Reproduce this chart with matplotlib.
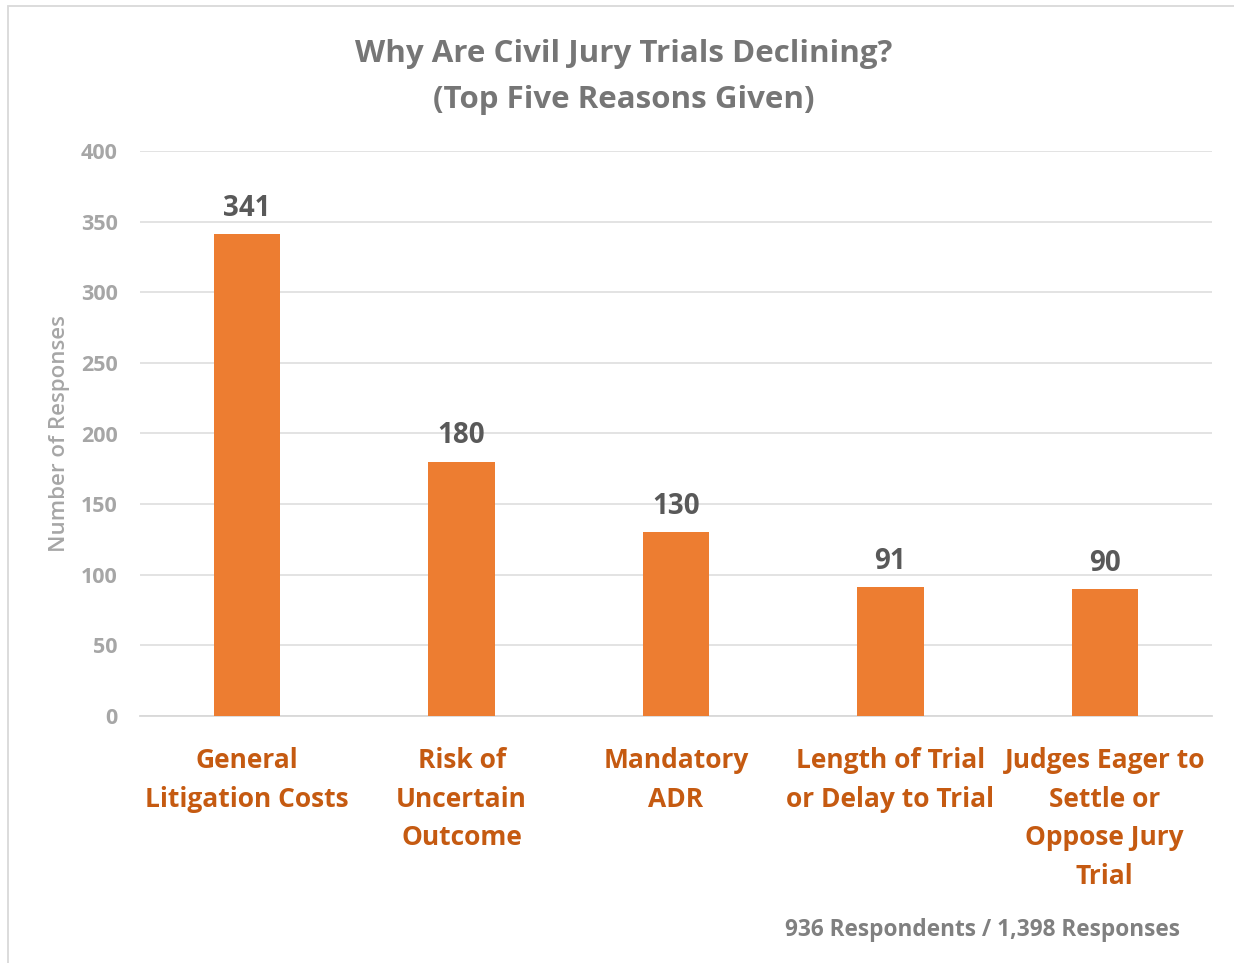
import matplotlib
matplotlib.use("Agg")
import matplotlib.pyplot as plt
from matplotlib.patches import Rectangle

plt.rcParams['font.family'] = ['Open Sans', 'DejaVu Sans']

# data
categories = ['General\nLitigation Costs', 'Risk of\nUncertain\nOutcome', 'Mandatory\nADR',
              'Length of Trial\nor Delay to Trial', 'Judges Eager to\nSettle or\nOppose Jury\nTrial']
responses = [341, 180, 130, 91, 90]
yticks = [0, 50, 100, 150, 200, 250, 300, 350, 400]

bar_color = '#ED7D31'
cat_color = '#C55A11'

fig = plt.figure(figsize=(12.34, 9.63), dpi=100)
ax = fig.add_axes([140 / 1234, 1 - 716 / 963, 1072 / 1234, 565 / 963])

x = list(range(len(categories)))
bars = ax.bar(x, responses, width=0.31, color=bar_color, zorder=3)
for xi, v in zip(x, responses):
    ax.text(xi, v + 8, str(v), ha='center', va='bottom', fontsize=20, fontweight='bold', color='#595959')

ax.set_xlim(-0.5, 4.5)
ax.set_ylim(0, 400)
ax.set_yticks(yticks)
ax.set_yticklabels([str(t) for t in yticks], fontsize=15.5, fontweight='bold', color='#A6A6A6')
ax.tick_params(axis='y', length=0, pad=16)
ax.set_xticks(x)
ax.set_xticklabels(categories, fontsize=19, fontweight='bold', color=cat_color, va='top')
for lab in ax.get_xticklabels():
    lab.set_linespacing(1.57)
ax.tick_params(axis='x', length=0, pad=22)
ax.grid(axis='y', color='#E0E0E0', linewidth=1.3, zorder=0)
for s in ['top', 'right', 'left']:
    ax.spines[s].set_visible(False)
ax.spines['bottom'].set_color('#D9D9D9')
ax.spines['bottom'].set_linewidth(1.3)

ax.set_ylabel('Number of Responses', fontsize=16, fontweight='semibold', color='#A6A6A6', labelpad=8)

fig.text(624 / 1234, 1 - 77 / 963, 'Why Are Civil Jury Trials Declining?\n(Top Five Reasons Given)',
         ha='center', va='center', fontsize=22.5, fontweight='bold', color='#767676', linespacing=1.68)
fig.text(1180 / 1234, 1 - 930 / 963, '936 Respondents / 1,398 Responses', ha='right', va='center',
         fontsize=16.3, fontweight='bold', color='#808080')

# chart border
fig.patches.append(Rectangle((8 / 1234, -0.01), 1.02, 1 - 6 / 963 + 0.01, transform=fig.transFigure,
                             fill=False, edgecolor='#D9D9D9', linewidth=1.3))

fig.savefig('out.png', dpi=100)
